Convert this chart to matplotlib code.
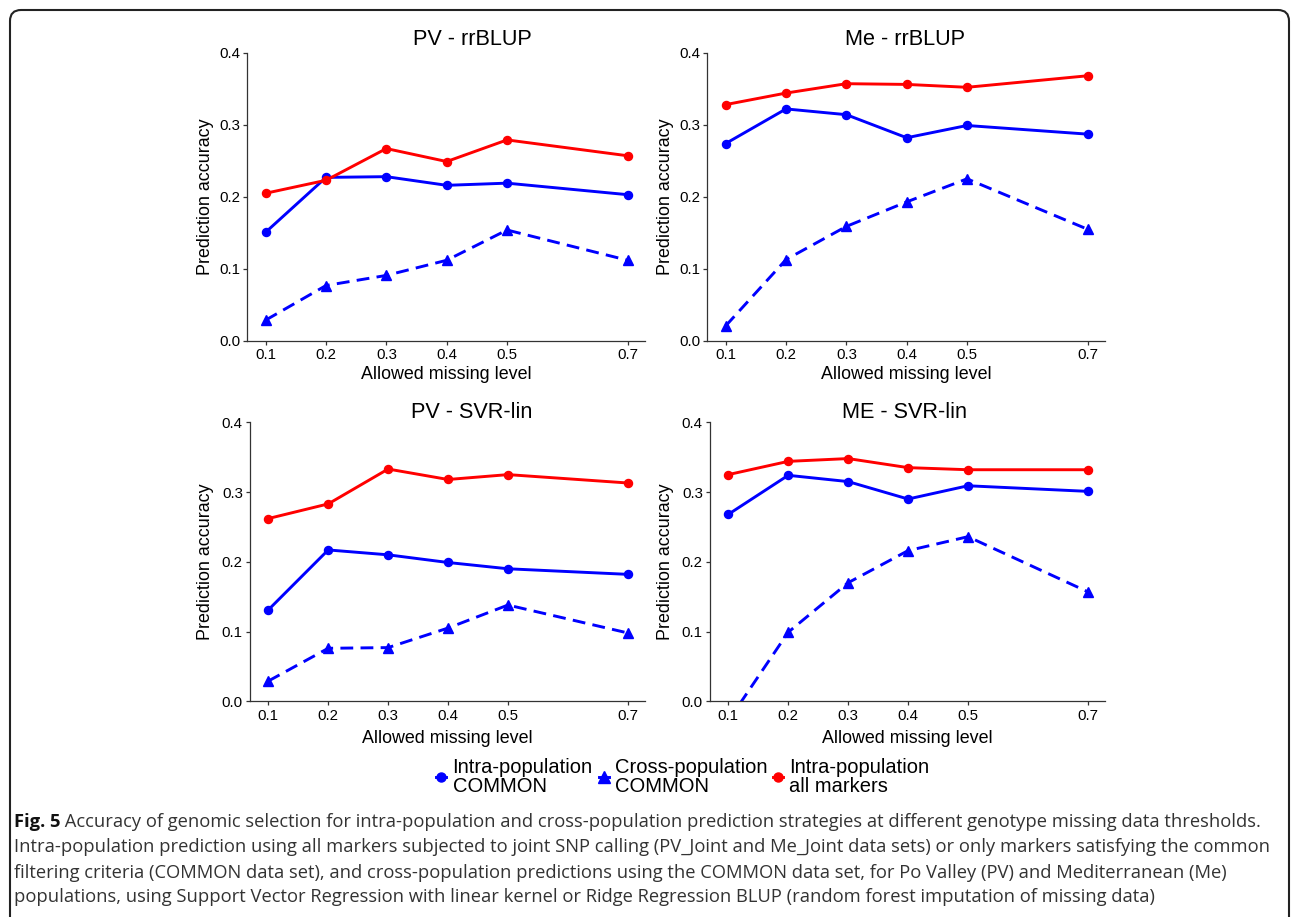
import matplotlib
matplotlib.use("Agg")
import matplotlib.pyplot as plt
from matplotlib.lines import Line2D
from matplotlib.patches import FancyBboxPatch

plt.rcParams['font.family'] = ['Liberation Sans', 'DejaVu Sans']

# ---------------- data ----------------
missing_levels = [0.1, 0.2, 0.3, 0.4, 0.5, 0.7]
tick_labels = ["0.1", "0.2", "0.3", "0.4", "0.5", "0.7"]
y_ticks = [0.0, 0.1, 0.2, 0.3, 0.4]

panel_titles = ["PV - rrBLUP", "Me - rrBLUP", "PV - SVR-lin", "ME - SVR-lin"]

pv_rr_intra = [0.151, 0.227, 0.228, 0.216, 0.219, 0.203]
pv_rr_cross = [0.029, 0.077, 0.091, 0.112, 0.154, 0.112]
pv_rr_all = [0.205, 0.223, 0.267, 0.249, 0.279, 0.257]

me_rr_intra = [0.274, 0.322, 0.314, 0.282, 0.299, 0.287]
me_rr_cross = [0.021, 0.113, 0.159, 0.193, 0.225, 0.155]
me_rr_all = [0.328, 0.344, 0.357, 0.356, 0.352, 0.368]

pv_svr_intra = [0.131, 0.217, 0.210, 0.199, 0.190, 0.182]
pv_svr_cross = [0.029, 0.076, 0.077, 0.105, 0.138, 0.098]
pv_svr_all = [0.262, 0.283, 0.333, 0.318, 0.325, 0.313]

me_svr_intra = [0.268, 0.324, 0.315, 0.290, 0.309, 0.301]
me_svr_cross = [-0.028, 0.099, 0.170, 0.216, 0.236, 0.157]
me_svr_all = [0.325, 0.344, 0.348, 0.335, 0.332, 0.332]

legend_labels = ["Intra-population\nCOMMON", "Cross-population\nCOMMON",
                 "Intra-population\nall markers"]

caption_bold = "Fig. 5"
caption_lines = [
    " Accuracy of genomic selection for intra-population and cross-population prediction strategies at different genotype missing data thresholds.",
    "Intra-population prediction using all markers subjected to joint SNP calling (PV_Joint and Me_Joint data sets) or only markers satisfying the common",
    "filtering criteria (COMMON data set), and cross-population predictions using the COMMON data set, for Po Valley (PV) and Mediterranean (Me)",
    "populations, using Support Vector Regression with linear kernel or Ridge Regression BLUP (random forest imputation of missing data)",
]

# ---------------- figure ----------------
W, H = 1292, 917
fig = plt.figure(figsize=(W / 100, H / 100), dpi=100)

BLUE = "#0000FF"
RED = "#FF0000"
AX_COL = "#333333"

# axes boxes in pixels: (left, right, top, bottom)
boxes = [
    (247.3, 645.0, 52.7, 341.0),
    (707.3, 1105.0, 52.7, 341.0),
    (250.0, 645.0, 422.3, 701.3),
    (710.0, 1105.0, 422.3, 701.3),
]
title_pos = [(472, 45), (905, 45), (472, 418.3), (905, 418.3)]
xlabel_pos = [(446, 379.3), (906, 379.3), (447, 743), (907, 743)]
ylabel_x = [206, 666, 206, 666]

series = [
    (pv_rr_intra, pv_rr_cross, pv_rr_all),
    (me_rr_intra, me_rr_cross, me_rr_all),
    (pv_svr_intra, pv_svr_cross, pv_svr_all),
    (me_svr_intra, me_svr_cross, me_svr_all),
]

LW = 2.1
for i, (l, r, t, b) in enumerate(boxes):
    ax = fig.add_axes([l / W, 1 - b / H, (r - l) / W, (b - t) / H])
    intra, cross, allm = series[i]
    ax.plot(missing_levels, intra, color=BLUE, lw=LW, marker='o', ms=5.8)
    ax.plot(missing_levels, cross, color=BLUE, lw=LW, marker='^', ms=7.6,
            linestyle=(0, (4.4, 2.5)))
    ax.plot(missing_levels, allm, color=RED, lw=LW, marker='o', ms=5.8)
    ax.set_xlim(0.0695, 0.7287)
    ax.set_ylim(0.0, 0.4)
    ax.set_xticks(missing_levels)
    ax.set_xticklabels(tick_labels)
    ax.set_yticks(y_ticks)
    ax.set_yticklabels([f"{v:.1f}" for v in y_ticks])
    for s in ["top", "right"]:
        ax.spines[s].set_visible(False)
    for s in ["left", "bottom"]:
        ax.spines[s].set_color(AX_COL)
        ax.spines[s].set_linewidth(0.9)
    ax.tick_params(axis='both', direction='out', length=3.0, width=0.9,
                   color=AX_COL, labelsize=10.8, labelcolor='black', pad=2.2)
    ax.set_facecolor('white')
    tx, ty = title_pos[i]
    fig.text(tx / W, 1 - ty / H, panel_titles[i], fontsize=15.6,
             ha='center', va='baseline')
    xx, xy = xlabel_pos[i]
    fig.text(xx / W, 1 - xy / H, "Allowed missing level", fontsize=12.9,
             ha='center', va='baseline')
    fig.text(ylabel_x[i] / W, 1 - ((t + b) / 2) / H, "Prediction accuracy",
             fontsize=12.9, rotation=90, ha='center', va='center')

# ---------------- legend ----------------
handles = [
    Line2D([], [], color=BLUE, lw=LW, marker='o', ms=6.5),
    Line2D([], [], color=BLUE, lw=LW, marker='^', ms=8.0),
    Line2D([], [], color=RED, lw=LW, marker='o', ms=6.5),
]
leg = fig.legend(handles, legend_labels, loc='center',
                 bbox_to_anchor=(683 / W, 1 - 777 / H), ncol=3, frameon=False,
                 fontsize=14.5, handlelength=0.5, handletextpad=0.3,
                 columnspacing=0.3, borderpad=0.0, borderaxespad=0.0)
for txt in leg.get_texts():
    txt.set_linespacing(1.0)

# ---------------- border ----------------
border = FancyBboxPatch((10, -40), 1279, 907 - (-40), boxstyle="round,pad=0,rounding_size=11",
                        transform=None, fill=False, edgecolor="#222222",
                        linewidth=1.5, clip_on=False)
fig.add_artist(border)

# ---------------- caption ----------------
cap_font = ['Open Sans', 'DejaVu Sans']
cap_size = 13.2
line_y = [822, 847.5, 872.5, 897.5]
fig.canvas.draw()
renderer = fig.canvas.get_renderer()
t0 = fig.text(14 / W, 1 - line_y[0] / H, caption_bold, fontsize=cap_size,
              family=cap_font, weight='bold', color='#111111', va='center')
bb = t0.get_window_extent(renderer=renderer)
fig.text(bb.x1 / W, 1 - line_y[0] / H, caption_lines[0], fontsize=cap_size,
         family=cap_font, color='#333333', va='center')
for k in range(1, 4):
    fig.text(14 / W, 1 - line_y[k] / H, caption_lines[k], fontsize=cap_size,
             family=cap_font, color='#333333', va='center')

fig.savefig("out.png", dpi=100, facecolor='white')
